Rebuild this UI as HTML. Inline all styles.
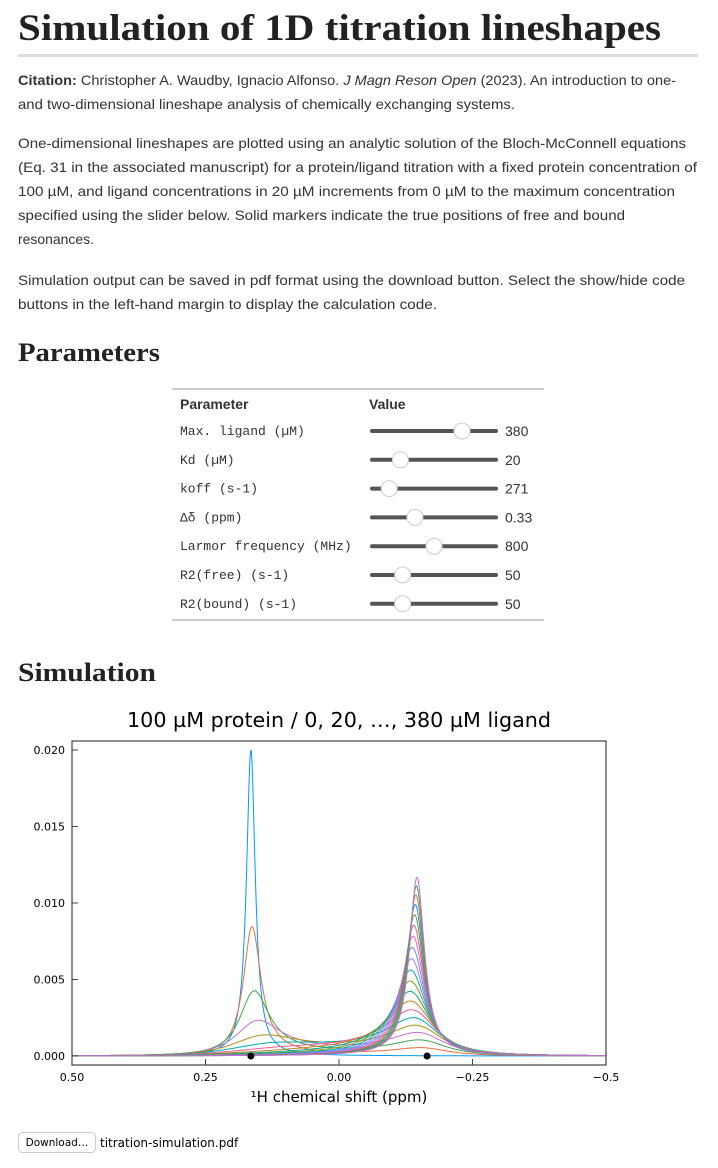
<!DOCTYPE html>
<html><head><meta charset="utf-8"><style>
html,body{margin:0;padding:0;background:#fff;width:718px;height:1168px;overflow:hidden}
svg{display:block}
.b{font-family:"Liberation Sans",sans-serif;font-size:14px;fill:#333}
.m{font-family:"Liberation Mono",monospace;font-size:13px;fill:#333}
.h{font-family:"Liberation Serif",serif;font-weight:bold;fill:#222}
.d{font-family:"DejaVu Sans",sans-serif;fill:#000}
</style></head><body>
<svg id="page" width="718" height="1168" xmlns="http://www.w3.org/2000/svg">
<text class="h" x="18" y="40" font-size="37" textLength="643" lengthAdjust="spacingAndGlyphs">Simulation of 1D titration lineshapes</text>
<rect x="18" y="54" width="680" height="3" fill="#ddd"/>
<g>
<text class="b" x="18" y="85" textLength="658" lengthAdjust="spacingAndGlyphs"><tspan font-weight="bold">Citation:</tspan> Christopher A. Waudby, Ignacio Alfonso. <tspan font-style="italic">J Magn Reson Open</tspan> (2023). An introduction to one-</text>
<text class="b" x="18" y="109" textLength="497" lengthAdjust="spacingAndGlyphs">and two-dimensional lineshape analysis of chemically exchanging systems.</text>
</g>
<g>
<text class="b" x="18" y="148" textLength="668" lengthAdjust="spacingAndGlyphs">One-dimensional lineshapes are plotted using an analytic solution of the Bloch-McConnell equations</text>
<text class="b" x="18" y="172" textLength="679" lengthAdjust="spacingAndGlyphs">(Eq. 31 in the associated manuscript) for a protein/ligand titration with a fixed protein concentration of</text>
<text class="b" x="18" y="196" textLength="657" lengthAdjust="spacingAndGlyphs">100 µM, and ligand concentrations in 20 µM increments from 0 µM to the maximum concentration</text>
<text class="b" x="18" y="220" textLength="607" lengthAdjust="spacingAndGlyphs">specified using the slider below. Solid markers indicate the true positions of free and bound</text>
<text class="b" x="18" y="244" textLength="76" lengthAdjust="spacingAndGlyphs">resonances.</text>
<text class="b" x="18" y="285" textLength="667" lengthAdjust="spacingAndGlyphs">Simulation output can be saved in pdf format using the download button. Select the show/hide code</text>
<text class="b" x="18" y="309" textLength="419" lengthAdjust="spacingAndGlyphs">buttons in the left-hand margin to display the calculation code.</text>
</g>
<text class="h" x="18" y="361" font-size="26" textLength="142" lengthAdjust="spacingAndGlyphs">Parameters</text>
<g id="table">
<rect x="172" y="388" width="372" height="2" fill="#ccc"/>
<rect x="172" y="619" width="372" height="2" fill="#ccc"/>
<text class="b" x="180" y="409" font-weight="bold" font-size="14">Parameter</text>
<text class="b" x="369" y="409" font-weight="bold" font-size="14">Value</text>
</g>
<text class="h" x="18" y="681" font-size="26" textLength="138" lengthAdjust="spacingAndGlyphs">Simulation</text>
<g id="chart">
<text class="d" x="339" y="727" font-size="20" text-anchor="middle" textLength="424" lengthAdjust="spacingAndGlyphs">100 µM protein / 0, 20, …, 380 µM ligand</text>
<defs><clipPath id="clip"><rect x="72" y="741" width="534" height="324"/></clipPath></defs>
<g id="curves" clip-path="url(#clip)"></g>
<g id="axes"></g>
<rect x="72" y="741" width="534" height="324" fill="none" stroke="#444" stroke-width="1.2"/>
<text class="d" x="339" y="1102" font-size="15" text-anchor="middle">¹H chemical shift (ppm)</text>
</g>
<g>
<rect x="18.5" y="1132.5" width="77" height="20" rx="4" fill="#fff" stroke="#ccc"/>
<text class="d" x="57" y="1146" font-size="10.5" text-anchor="middle" fill="#333">Download…</text>
</g>
<text class="d" x="100" y="1147" font-size="12">titration-simulation.pdf</text>
</svg>
<script>
// Parameter table data
const paramLabels = ["Max. ligand (µM)","Kd (µM)","koff (s-1)","Δδ (ppm)","Larmor frequency (MHz)","R2(free) (s-1)","R2(bound) (s-1)"];
const paramValues = ["380","20","271","0.33","800","50","50"];
const sliderFrac = [0.75,0.2,0.1,0.33,0.5,0.22,0.22];
// Chart data
const ligandConc = [0,20,40,60,80,100,120,140,160,180,200,220,240,260,280,300,320,340,360,380];
const proteinConc = [100];
const kd = [20];
const koff = [271];
const shiftFree = [0.165];
const shiftBound = [-0.165];
const larmorMHz = [800];
const r2Free = [50];
const r2Bound = [50];
const xTicks = [0.5,0.25,0,-0.25,-0.5];
const xTickLabels = ["0.50","0.25","0.00","\u22120.25","\u22120.5"];
const yTicks = [0,0.005,0.01,0.015,0.02];
const yTickLabels = ["0.000","0.005","0.010","0.015","0.020"];
const palette = ["#009AFA","#E36F47","#3EA44E","#C371D2","#AC8E18","#00AAAE","#ED5E93","#C68225","#00A98D","#8E971D","#00A9CD","#9B7FE9","#618DF6","#F061DD","#DD6466","#6B9E32"];

const NS="http://www.w3.org/2000/svg";
function mk(t,a){const e=document.createElementNS(NS,t);for(const k in a)e.setAttribute(k,a[k]);return e;}
const table=document.getElementById('table');
paramLabels.forEach((lab,i)=>{
  const cy=431+i*28.8;
  const t=mk('text',{class:'m',x:180,y:cy+4});t.textContent=lab;
  
  
  table.appendChild(t);
  const g=mk('g',{});
  
  
  g.appendChild(mk('rect',{x:370,y:cy-2,width:128,height:4,rx:2,fill:'#555'}));
  g.appendChild(mk('circle',{cx:370+8+sliderFrac[i]*112,cy:cy,r:8,fill:'#fff',stroke:'#ccc','stroke-width':1}));
  table.appendChild(g);
  const v=mk('text',{class:'b',x:505,y:cy+5,'font-size':14});v.textContent=paramValues[i];
  
  
  table.appendChild(v);
});
const X0=72,X1=606,XMIN=0.5,XMAX=-0.5,Y0=1056,YTOP=750;
const xs=p=>X0+(p-XMIN)/(XMAX-XMIN)*(X1-X0);
const ys=v=>Y0-v/0.02*(Y0-YTOP);
const axes=document.getElementById('axes');
xTicks.forEach((p,i)=>{
  const l=mk('line',{x1:xs(p),x2:xs(p),y1:1065,y2:1059,stroke:'#444'});
  
  
  axes.appendChild(l);
  const t=mk('text',{class:'d',x:xs(p),y:1081,'font-size':11,'text-anchor':'middle'});t.textContent=xTickLabels[i];
  
  
  axes.appendChild(t);
});
yTicks.forEach((v,i)=>{
  const l=mk('line',{x1:72,x2:78,y1:ys(v),y2:ys(v),stroke:'#444'});
  
  
  axes.appendChild(l);
  const t=mk('text',{class:'d',x:65,y:ys(v)+4,'font-size':11,'text-anchor':'end'});t.textContent=yTickLabels[i];
  
  
  axes.appendChild(t);
});
function spectrum(L0,p){
  const P=proteinConc[0],K=kd[0];
  const s=P+L0+K, PL=(s-Math.sqrt(s*s-4*P*L0))/2;
  const pB=PL/P, pA=1-pB;
  const kBA=koff[0], kAB=pA>0?koff[0]*pB/pA:0;
  const w=2*Math.PI*larmorMHz[0];
  const wA=shiftFree[0]*w, wB=shiftBound[0]*w, om=p*w;
  const ar=r2Free[0]+kAB, ai=wA-om, dr=r2Bound[0]+kBA, di=wB-om;
  const b=-kBA, c=-kAB;
  const detr=ar*dr-ai*di-b*c, deti=ar*di+ai*dr;
  const nr=dr*pA-b*pB-c*pA+ar*pB, ni=di*pA+ai*pB;
  const m=detr*detr+deti*deti;
  return (nr*detr+ni*deti)/m;
}
const curves=document.getElementById('curves');
ligandConc.forEach((L,i)=>{
  let d='';
  for(let k=0;k<=1200;k++){
    const p=XMIN+(XMAX-XMIN)*k/1200;
    d+=(k?'L':'M')+xs(p).toFixed(2)+' '+ys(spectrum(L,p)).toFixed(2);
  }
  const path=mk('path',{d:d,fill:'none',stroke:palette[i%palette.length],'stroke-width':1});
  
  
  curves.appendChild(path);
});
[shiftFree[0],shiftBound[0]].forEach((s,i)=>{
  const c=mk('circle',{cx:xs(s),cy:ys(0),r:3.5,fill:'#000'});
  
  
  curves.appendChild(c);
});
</script>
</body></html>
